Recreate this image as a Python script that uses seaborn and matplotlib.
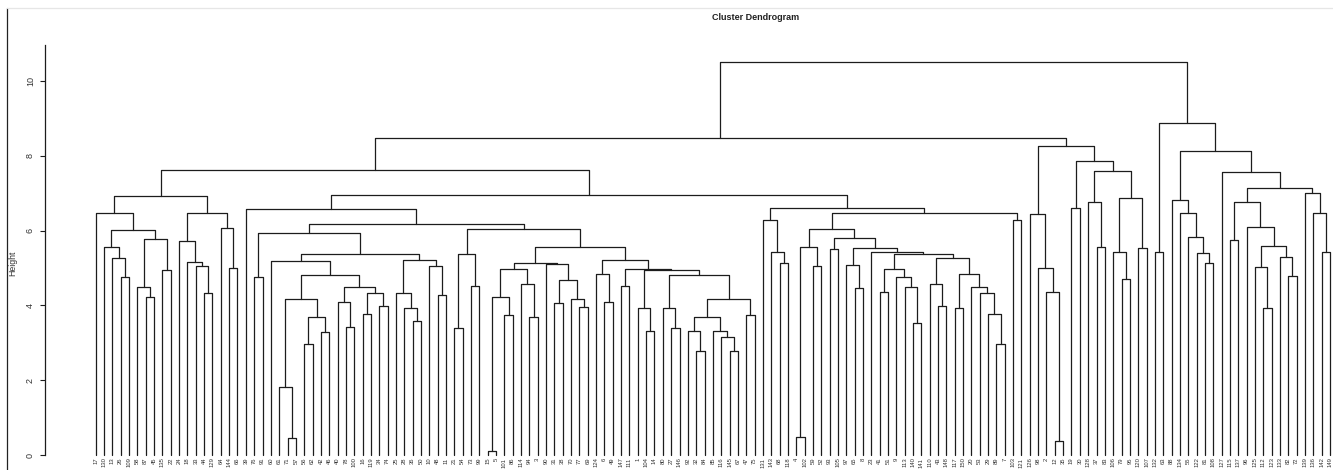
import matplotlib
matplotlib.use("Agg")
import matplotlib.pyplot as plt
from matplotlib.lines import Line2D
import numpy as np
import pandas as pd
import seaborn as sns

# Leaf labels in dendrogram order, left to right
leaf_labels = [
    17, 130, 13, 26, 109, 58, 87, 45, 135, 22,
    24, 18, 33, 44, 129, 64, 144, 66, 39, 76,
    91, 60, 61, 71, 57, 56, 62, 42, 46, 40,
    78, 100, 16, 119, 34, 74, 25, 28, 36, 50,
    10, 48, 11, 21, 54, 73, 99, 15, 5, 101,
    86, 114, 94, 3, 90, 31, 38, 70, 77, 69,
    124, 6, 49, 147, 111, 1, 104, 14, 80, 27,
    146, 92, 32, 84, 85, 116, 145, 67, 47, 75,
    131, 143, 68, 118, 4, 102, 59, 52, 93, 105,
    97, 65, 8, 23, 41, 51, 9, 113, 140, 141,
    110, 43, 148, 117, 150, 20, 53, 29, 89, 7,
    103, 121, 126, 98, 2, 12, 35, 19, 30, 128,
    37, 83, 106, 79, 95, 120, 107, 132, 63, 88,
    134, 55, 122, 81, 108, 127, 115, 137, 96, 125,
    112, 123, 133, 82, 72, 139, 136, 142, 149,
]

# Height at which leaf k and leaf k+1 first end up in the same cluster
join_heights = [
    6.46, 5.57, 5.26, 4.77, 6.02, 4.48, 4.23, 5.77, 4.95, 6.92,
    5.72, 5.17, 5.05, 4.32, 6.48, 6.06, 4.99, 7.62, 6.58, 4.77,
    5.93, 5.19, 1.81, 0.45, 4.17, 2.97, 3.70, 3.30, 4.81, 4.10,
    3.41, 4.48, 3.77, 4.32, 3.99, 5.37, 4.34, 3.94, 3.58, 5.21,
    5.05, 4.29, 6.17, 3.39, 5.37, 4.52, 6.04, 0.12, 4.23, 3.74,
    4.96, 4.56, 3.70, 5.13, 5.11, 4.06, 4.68, 4.16, 3.95, 5.57,
    4.84, 4.10, 5.21, 4.52, 4.97, 3.94, 3.31, 4.95, 3.94, 3.39,
    4.81, 3.32, 2.79, 3.70, 3.31, 3.16, 2.79, 4.18, 3.74, 6.95,
    6.28, 5.44, 5.14, 6.60, 0.47, 5.55, 5.06, 6.03, 5.50, 5.79,
    5.08, 4.46, 5.54, 5.42, 4.37, 4.96, 4.75, 4.50, 3.54, 5.37,
    4.56, 3.99, 5.26, 3.94, 4.83, 4.50, 4.34, 3.77, 2.98, 6.46,
    6.28, 8.48, 6.44, 4.99, 4.37, 0.38, 8.25, 6.60, 7.85, 6.77,
    5.55, 7.60, 5.44, 4.70, 6.86, 5.53, 10.51, 5.44, 8.87, 6.82,
    6.46, 5.84, 5.39, 5.13, 8.13, 7.57, 5.75, 6.77, 6.09, 5.03,
    3.92, 5.60, 5.30, 4.79, 7.13, 7.01, 6.46, 5.44,
]

height_ticks = [0, 2, 4, 6, 8, 10]
title_text = "Cluster Dendrogram"
height_label = "Height"

# Each merge is drawn as a bracket: up from the left child, across, down to the right child
rows = []
counter = [0]


def build(lo, hi):
    if lo == hi:
        return float(lo + 1), 0.0
    k = lo + int(np.argmax(join_heights[lo:hi]))
    h = join_heights[k]
    xl, hl = build(lo, k)
    xr, hr = build(k + 1, hi)
    nid = counter[0]
    counter[0] += 1
    rows.extend([
        (nid, 0, xl, hl),
        (nid, 1, xl, h),
        (nid, 2, xr, h),
        (nid, 3, xr, hr),
    ])
    return (xl + xr) / 2.0, h


build(0, len(leaf_labels) - 1)
brackets = pd.DataFrame(rows, columns=["node", "step", "x", "h"])

sns.set_style("white")
plt.rcParams["font.family"] = ["Liberation Sans", "DejaVu Sans"]

W, H = 1333, 470
fig = plt.figure(figsize=(W / 100, H / 100), dpi=100)
fig.patch.set_facecolor("white")

# pixel geometry of the plotting area
ax_left_px, ax_top_px = 45, 45
x0_px, dx_px = 95.7, 8.34        # first leaf position and leaf spacing
y0_px, dy_px = 455.0, 37.4       # zero height and pixels per unit height

ax = fig.add_axes([ax_left_px / W, 0, (W - ax_left_px) / W, (H - ax_top_px) / H])
ax.set_facecolor("white")

sns.lineplot(data=brackets, x="x", y="h", units="node", estimator=None,
             sort=False, color="#1c1c1c", linewidth=0.9, legend=False, ax=ax)

ax.set_xlim(1 - (x0_px - ax_left_px) / dx_px, 1 + (W - x0_px) / dx_px)
ax.set_ylim(-(H - y0_px) / dy_px, (y0_px - ax_top_px) / dy_px)
ax.set_xlabel("")
ax.set_ylabel("")
ax.set_xticks([])

for side in ["top", "right", "bottom"]:
    ax.spines[side].set_visible(False)
ax.spines["left"].set_bounds(0, (y0_px - ax_top_px) / dy_px)
ax.spines["left"].set_color("#1c1c1c")
ax.spines["left"].set_linewidth(0.9)

ax.set_yticks(height_ticks)
ax.set_yticklabels([str(t) for t in height_ticks], rotation=90, va="center",
                   fontsize=6.5, color="#333333")
ax.tick_params(axis="y", direction="out", length=3.8, width=0.8,
               color="#1c1c1c", pad=3.5, left=True)

for i, lab in enumerate(leaf_labels):
    ax.text(i + 1, -0.07, str(lab), rotation=90, ha="center", va="top",
            fontsize=4.2, color="#333333", clip_on=False)

fig.text(756 / W, 1 - 18 / H, title_text, ha="center", va="center",
         fontsize=6.5, fontweight="bold", color="#222222")
fig.text(13 / W, 1 - 263 / H, height_label, ha="center", va="center",
         rotation=90, fontsize=6.3, color="#333333")

# thin frame at the left and top edge
fig.add_artist(Line2D([7 / W, 7 / W], [0, 1 - 8 / H], color="#222222", lw=0.9))
fig.add_artist(Line2D([7 / W, 1], [1 - 8 / H, 1 - 8 / H], color="#e6e6e6", lw=0.9))

fig.savefig("out.png", dpi=100, facecolor="white")
